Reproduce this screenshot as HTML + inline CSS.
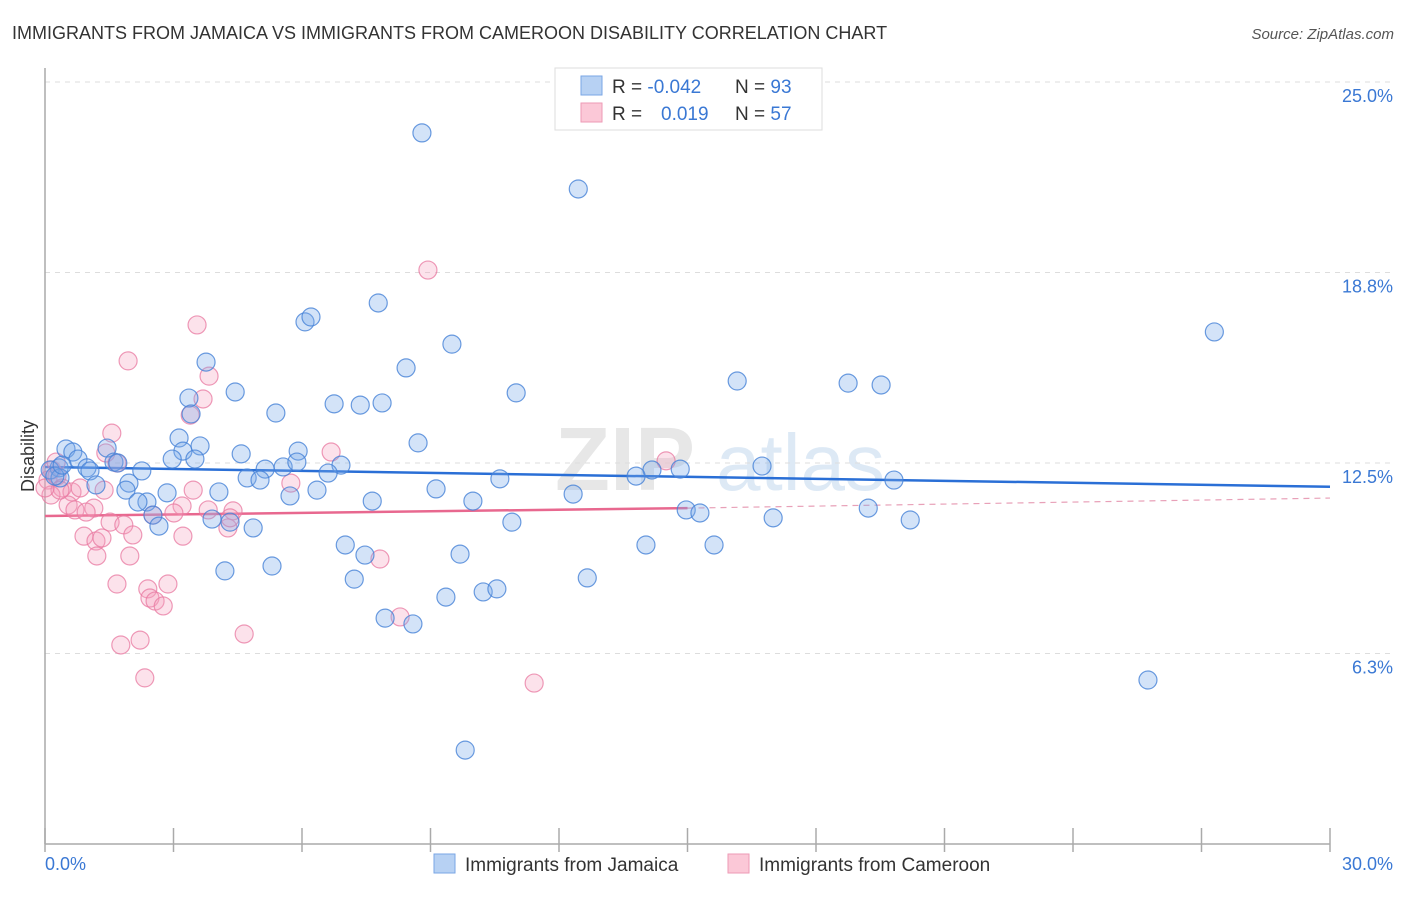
<!DOCTYPE html>
<html><head><meta charset="utf-8"><style>
body{margin:0;background:#fff;font-family:"Liberation Sans",sans-serif;}
svg text{font-family:"Liberation Sans",sans-serif;}
</style></head><body>
<svg width="1406" height="892" viewBox="0 0 1406 892">
<text x="12" y="39" font-size="18" fill="#333">IMMIGRANTS FROM JAMAICA VS IMMIGRANTS FROM CAMEROON DISABILITY CORRELATION CHART</text>
<text x="1394" y="39" font-size="15" fill="#555" font-style="italic" text-anchor="end">Source: ZipAtlas.com</text>
<g>
<text x="555" y="490" font-size="90" fill="#ddd" font-family="Liberation Serif" font-weight="bold" opacity="0.7">ZIP</text>
<text x="716" y="490" font-size="80" fill="#cfe0f2" opacity="0.7">atlas</text>
</g>
<g id="grid"></g>
<g id="axes"></g>
<g id="trends"></g>
<g id="pts"></g>
<text x="34" y="456" font-size="18" fill="#333" text-anchor="middle" transform="rotate(-90 34 456)">Disability</text>
<g>
<rect x="555" y="68" width="267" height="62" fill="#fff" stroke="#ddd"/>
<rect x="581" y="76" width="21" height="19" fill="#b7d1f3" stroke="#7aa6e4"/>
<rect x="581" y="103" width="21" height="19" fill="#fbc8d7" stroke="#ee9ab6"/>
<text x="612" y="93" font-size="19" fill="#333">R = <tspan fill="#3a78d4">-0.042</tspan></text>
<text x="735" y="93" font-size="19" fill="#333">N = <tspan fill="#3a78d4">93</tspan></text>
<text x="612" y="120" font-size="19" fill="#333">R = <tspan fill="#3a78d4" x="661">0.019</tspan></text>
<text x="735" y="120" font-size="19" fill="#333">N = <tspan fill="#3a78d4">57</tspan></text>
</g>
<g>
<rect x="434" y="854" width="21" height="19" fill="#b7d1f3" stroke="#7aa6e4"/>
<text x="465" y="871" font-size="19" fill="#333">Immigrants from Jamaica</text>
<rect x="728" y="854" width="21" height="19" fill="#fbc8d7" stroke="#ee9ab6"/>
<text x="759" y="871" font-size="19" fill="#333">Immigrants from Cameroon</text>
</g>
</svg>
<script>
const blueX=[8.80,12.45,27.30,7.78,6.07,6.21,9.50,3.76,8.43,16.16,18.75,19.52,4.44,11.00,3.36,6.75,7.36,7.87,5.39,3.41,8.71,3.13,0.49,3.62,5.91,1.45,0.65,3.22,2.97,4.58,3.50,0.77,1.61,2.26,6.91,5.14,5.56,5.88,0.33,0.12,0.98,1.05,16.74,14.83,14.17,13.80,6.61,4.72,5.02,10.62,19.82,1.70,1.19,1.96,1.89,2.85,2.38,2.17,4.06,5.72,6.35,9.13,12.33,7.64,9.99,14.97,15.29,19.22,17.00,20.20,10.90,2.52,2.66,3.90,4.32,4.86,7.01,7.47,9.69,14.03,15.62,4.20,5.30,7.22,12.66,10.23,10.55,9.36,7.94,8.59,25.75,9.81,0.35,0.23,0.40];
const blueY=[23.33,21.49,16.80,17.75,17.13,17.29,16.40,15.81,15.62,15.19,15.12,15.06,14.83,14.80,14.63,14.44,14.40,14.47,14.14,14.11,13.16,13.32,12.96,13.06,12.89,12.99,12.86,12.89,12.63,12.80,12.63,12.63,12.53,12.24,12.43,12.30,12.37,12.53,12.34,12.27,12.34,12.24,12.40,12.30,12.27,12.07,12.17,12.01,11.94,11.98,11.94,12.50,11.78,11.84,11.61,11.52,11.22,11.22,11.55,11.42,11.61,11.65,11.48,11.25,11.25,10.96,10.86,11.02,10.70,10.63,10.56,10.79,10.43,10.66,10.56,10.37,9.81,9.48,9.51,9.81,9.81,8.96,9.12,8.69,8.73,8.27,8.37,8.10,7.41,7.22,5.38,3.08,12.01,12.07,12.43];
const pinkX=[8.94,3.55,1.94,3.83,3.69,3.39,1.56,6.68,1.42,1.68,14.50,5.74,0.16,0.07,0.28,0.40,0.63,0.82,1.38,0.54,1.14,3.20,3.46,3.01,3.81,4.39,2.52,1.52,4.27,1.84,3.22,2.05,0.91,1.19,1.33,1.21,1.98,7.82,1.68,2.40,2.87,2.45,2.57,2.76,8.29,4.65,2.22,1.77,2.33,11.42,0.14,4.32,0.35,0.70,0.0,0.96,0.26];
const pinkY=[18.83,17.03,15.85,15.35,14.60,14.07,13.48,12.86,12.83,12.50,12.57,11.84,12.27,11.94,12.07,11.68,11.55,11.68,11.61,11.12,11.02,11.09,11.61,10.86,10.96,10.93,10.79,10.56,10.37,10.47,10.10,10.14,10.10,9.94,10.04,9.45,9.45,9.35,8.53,8.37,8.53,8.07,7.97,7.81,7.45,6.89,6.69,6.53,5.45,5.28,11.45,10.70,11.61,10.96,11.68,10.89,12.53];
const blueTrend=[12.37,11.72];
const pinkTrend=[10.76,11.02,11.35];
const yTicks=[25.0,18.8,12.5,6.3];
const yTickVals=[25,18.75,12.5,6.25];
const xTickLabels=["0.0%","30.0%"];
const NS="http://www.w3.org/2000/svg";
const sx=v=>45+v/30*1285;
const sy=v=>844-v/25*762;
function mk(tag,attrs,parent){const e=document.createElementNS(NS,tag);for(const k in attrs)e.setAttribute(k,attrs[k]);parent.appendChild(e);return e;}
const grid=document.getElementById('grid'),axes=document.getElementById('axes'),trends=document.getElementById('trends'),pts=document.getElementById('pts');
yTickVals.forEach((v,i)=>{
 const l=mk('line',{x1:45,x2:1393,y1:sy(v),y2:sy(v),stroke:'#ddd','stroke-dasharray':'5,5'},grid);
 
 
 const t=mk('text',{x:1393,y:sy(v)+20,'font-size':18,fill:'#3a78d4','text-anchor':'end'},grid);
 t.textContent=yTicks[i].toFixed(1)+'%';
 
 
});
const al=mk('line',{x1:45,x2:45,y1:68,y2:844,stroke:'#aaa','stroke-width':1.5},axes);


const bl=mk('line',{x1:45,x2:1330,y1:844,y2:844,stroke:'#aaa','stroke-width':1.5},axes);


for(let i=0;i<=10;i++){
 const tk=mk('line',{x1:sx(i*3),x2:sx(i*3),y1:828,y2:852,stroke:'#aaa','stroke-width':1.5},axes);
 
 
}
[[0,'start',45],[30,'end',1393]].forEach((d,i)=>{
 const t=mk('text',{x:d[2],y:870,'font-size':18,fill:'#3a78d4','text-anchor':d[1]},axes);
 t.textContent=xTickLabels[i];
 
 
});
function dots(X,Y,fill,stroke,name){
 X.forEach((x,i)=>{
  const c=mk('circle',{cx:sx(x),cy:sy(Y[i]),r:9,fill:fill,stroke:stroke,'stroke-width':1.2},pts);
  
  
 });
}
dots(pinkX,pinkY,'rgba(244,160,188,0.3)','rgba(232,120,160,0.75)','cameroon-point');
dots(blueX,blueY,'rgba(120,170,235,0.33)','rgba(70,130,215,0.8)','jamaica-point');
const bt=mk('line',{x1:sx(0),x2:sx(30),y1:sy(blueTrend[0]),y2:sy(blueTrend[1]),stroke:'#2a6fd6','stroke-width':2.5},trends);


const pt=mk('line',{x1:sx(0),x2:sx(15),y1:sy(pinkTrend[0]),y2:sy(pinkTrend[1]),stroke:'#e8688f','stroke-width':2.5},trends);


const pd=mk('line',{x1:sx(15),x2:sx(30),y1:sy(pinkTrend[1]),y2:sy(pinkTrend[2]),stroke:'#e8a0b8','stroke-width':1.2,'stroke-dasharray':'6,5'},trends);


</script>
</body></html>
